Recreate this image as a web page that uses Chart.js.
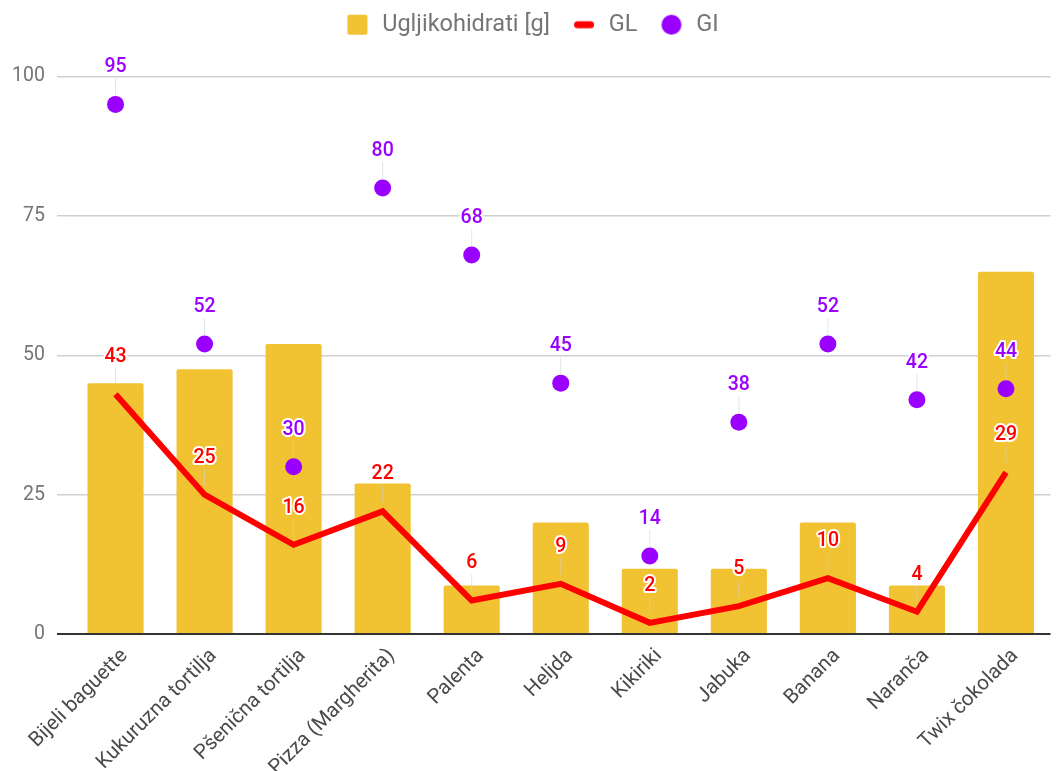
<!DOCTYPE html>
<html>
<head>
<meta charset="utf-8">
<script src="https://cdn.jsdelivr.net/npm/chart.js@4/dist/chart.umd.min.js"></script>
<style>
  html, body { margin: 0; padding: 0; background: #fff; }
  #wrap { width: 1059px; height: 771px; }
</style>
</head>
<body>
<div id="wrap"><canvas id="myChart" width="1059" height="771"></canvas></div>
<script>
  const categories = [
    "Bijeli baguette",
    "Kukuruzna tortilja",
    "Pšenična tortilja",
    "Pizza (Margherita)",
    "Palenta",
    "Heljda",
    "Kikiriki",
    "Jabuka",
    "Banana",
    "Naranča",
    "Twix čokolada",
  ];
  const carbValues = [45, 47.5, 52, 27, 8.7, 20, 11.7, 11.7, 20, 8.7, 65];
  const glValues = [43, 25, 16, 22, 6, 9, 2, 5, 10, 4, 29];
  const giValues = [95, 52, 30, 80, 68, 45, 14, 38, 52, 42, 44];
  const yTicks = [0, 25, 50, 75, 100];

  const FONT = "Roboto";

  // small legend icons, drawn on the right 20px of a 34px box
  function makeIcon(kind, color) {
    const c = document.createElement("canvas");
    c.width = 34;
    c.height = 22;
    const g = c.getContext("2d");
    g.fillStyle = color;
    g.strokeStyle = color;
    if (kind === "rect") {
      g.beginPath();
      g.roundRect(11, 1, 20, 20, 2);
      g.fill();
    } else if (kind === "line") {
      g.lineWidth = 7;
      g.lineCap = "round";
      g.beginPath();
      g.moveTo(14.5, 11);
      g.lineTo(27.5, 11);
      g.stroke();
    } else {
      g.beginPath();
      g.arc(21, 11, 10, 0, Math.PI * 2);
      g.fill();
    }
    return c;
  }
  const icons = [
    makeIcon("rect", "#f1c232"),
    makeIcon("line", "#ff0000"),
    makeIcon("circle", "#9900ff"),
  ];

  // extra room under the legend
  const legendSpace = {
    id: "legendSpace",
    beforeInit(chart) {
      const fit = chart.legend.fit;
      chart.legend.fit = function () {
        fit.bind(chart.legend)();
        this.height += 30;
      };
    },
  };

  // value labels above GL / GI points, with a faint leader line
  const pointLabels = {
    id: "pointLabels",
    afterDatasetsDraw(chart) {
      const ctx = chart.ctx;
      [1, 2].forEach((di) => {
        const ds = chart.data.datasets[di];
        const meta = chart.getDatasetMeta(di);
        meta.data.forEach((el, i) => {
          const x = el.x;
          const y = el.y;
          const ty = y - 37;
          ctx.save();
          ctx.strokeStyle = "rgba(210,210,210,0.6)";
          ctx.lineWidth = 1;
          ctx.beginPath();
          ctx.moveTo(x, y - 9);
          ctx.lineTo(x, ty + 11);
          ctx.stroke();
          ctx.font = "500 19.5px " + FONT;
          ctx.textAlign = "center";
          ctx.textBaseline = "middle";
          ctx.lineJoin = "round";
          ctx.lineWidth = 4;
          ctx.strokeStyle = "#ffffff";
          ctx.strokeText(String(ds.data[i]), x, ty);
          ctx.fillStyle = ds.labelColor;
          ctx.fillText(String(ds.data[i]), x, ty);
          ctx.restore();
        });
      });
    },
  };

  var ctx = document.getElementById("myChart").getContext("2d");
  var chart = new Chart(ctx, {
    type: "bar",
    data: {
      labels: categories,
      datasets: [
        {
          type: "bar",
          label: "Ugljikohidrati [g]",
          data: carbValues,
          backgroundColor: "#f1c232",
          borderRadius: 2,
          categoryPercentage: 1,
          barPercentage: 0.63,
          order: 3,
        },
        {
          type: "line",
          label: "GL",
          data: glValues,
          borderColor: "#ff0000",
          borderWidth: 6,
          pointRadius: 0,
          tension: 0,
          fill: false,
          labelColor: "#ff0000",
          order: 2,
        },
        {
          type: "line",
          label: "GI",
          data: giValues,
          showLine: false,
          pointRadius: 8.5,
          pointHoverRadius: 8.5,
          pointBackgroundColor: "#9900ff",
          pointBorderWidth: 0,
          labelColor: "#9900ff",
          order: 1,
        },
      ],
    },
    options: {
      responsive: false,
      animation: false,
      devicePixelRatio: 1,
      layout: {
        padding: { top: 0, right: 4, left: 0, bottom: 0 },
      },
      plugins: {
        tooltip: { enabled: false },
        legend: {
          position: "top",
          labels: {
            usePointStyle: true,
            pointStyleWidth: 34,
            boxHeight: 22,
            padding: 13,
            color: "#757575",
            font: { family: FONT, size: 23.5 },
            generateLabels: (chart) =>
              chart.data.datasets.map((ds, i) => ({
                text: ds.label,
                pointStyle: icons[i],
                datasetIndex: i,
                hidden: false,
                lineWidth: 0,
                fontColor: "#757575",
              })),
          },
        },
      },
      scales: {
        x: {
          grid: { display: false },
          border: { display: false },
          ticks: {
            minRotation: 45,
            maxRotation: 45,
            autoSkip: false,
            color: "#4a4a4a",
            font: { family: FONT, size: 20.5 },
            padding: 2,
            labelOffset: 9,
          },
          afterFit: (scale) => {
            scale.height = 137;
          },
        },
        y: {
          min: 0,
          max: 100,
          afterBuildTicks: (scale) => {
            scale.ticks = yTicks.map((v) => ({ value: v }));
          },
          ticks: {
            color: "#757575",
            font: { family: FONT, size: 19.5 },
            padding: 12,
          },
          grid: {
            color: (c) => (c.tick && c.tick.value === 0 ? "#333333" : "#d0d0d0"),
            lineWidth: (c) => (c.tick && c.tick.value === 0 ? 2 : 1.5),
            tickLength: 14,
          },
          border: { display: false },
          afterFit: (scale) => {
            scale.width = 71;
          },
        },
      },
    },
    plugins: [legendSpace, pointLabels],
  });
</script>
</body>
</html>
